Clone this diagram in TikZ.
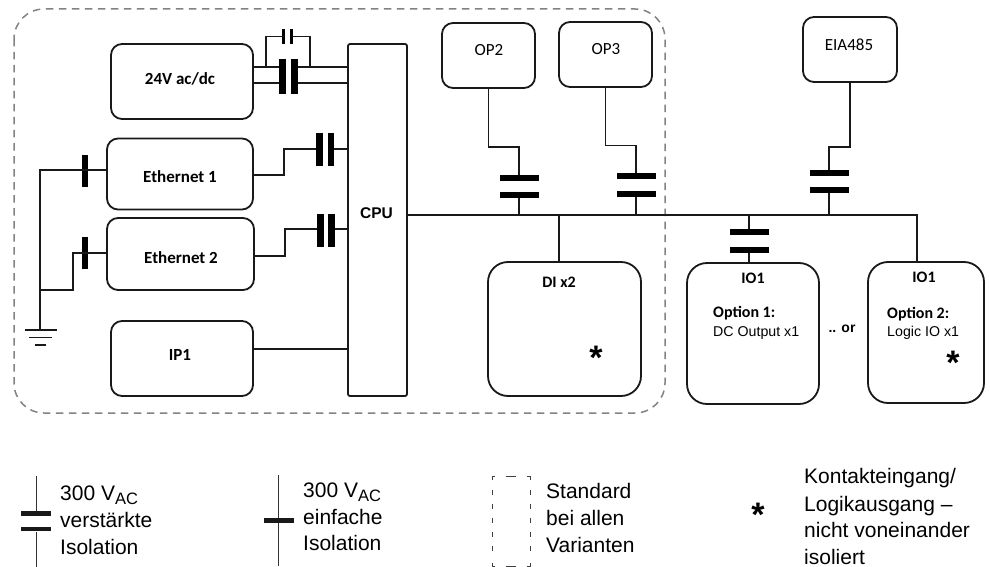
\documentclass[tikz,border=0pt]{standalone}
\usepackage{fontspec}
\setmainfont{Liberation Sans}
\newfontfamily\carl{Carlito}
\usetikzlibrary{calc}
\definecolor{dashgray}{RGB}{130,130,130}
\newcommand{\vac}{300 V\raisebox{-4pt}{\fontsize{16.5}{18}\selectfont AC}}
\tikzset{
  x=1pt,y=-1pt,
  wire/.style={line width=1.8pt,black!90},
  thin wire/.style={line width=1pt,black!80},
  rbox/.style={draw=black!90,line width=1.8pt,rounded corners=11pt,inner sep=0pt},
  bigbox/.style={rbox,rounded corners=20pt},
  vplate/.style={fill=black,inner sep=0pt,minimum width=6.5pt,minimum height=33pt},
  hplate/.style={fill=black,inner sep=0pt,minimum width=39pt,minimum height=6pt},
  lhplate/.style={fill=black!90,inner sep=0pt,minimum width=30pt,minimum height=4.8pt},
  lbl/.style={inner sep=0pt,font=\carl\bfseries\fontsize{17}{18}\selectfont},
  lblopt/.style={inner sep=0pt,font=\carl\bfseries\fontsize{16}{18}\selectfont},
  lblreg/.style={inner sep=0pt,font=\carl\fontsize{17}{18}\selectfont},
  arial/.style={inner sep=0pt,font=\fontsize{14.2}{18}\selectfont},
  arialb/.style={inner sep=0pt,font=\bfseries\fontsize{14}{18}\selectfont},
  legend/.style={inner sep=0pt,anchor=base west,font=\fontsize{21}{24}\selectfont},
  star/.style={inner sep=0pt,font=\bfseries\fontsize{34}{34}\selectfont},
  legdash/.style={black!75,line width=0.8pt},
}
\begin{document}
\begin{tikzpicture}
\useasboundingbox (0,0) rectangle (990,567);
% standard area
\draw[dashgray,line width=1.5pt,dash pattern=on 7.5pt off 5.5pt,rounded corners=30pt] (14,9) rectangle (665,413);
% boxes
\node[rbox,minimum width=142pt,minimum height=75pt] (psu) at (182,81.5) {};
\node[lbl] at (180,79) {24V ac/dc};
\node[rbox,minimum width=146pt,minimum height=71pt] (eth1) at (180,174) {};
\node[lbl] at (180,177) {Ethernet 1};
\node[rbox,minimum width=147pt,minimum height=72pt] (eth2) at (180.5,254) {};
\node[lbl] at (181,258) {Ethernet 2};
\node[rbox,minimum width=142pt,minimum height=75pt] (ip1) at (182,358.5) {};
\node[lbl] at (180,355) {IP1};
\node[draw=black!90,line width=1.8pt,rounded corners=2pt,minimum width=59pt,minimum height=352pt,inner sep=0pt] (cpu) at (377.5,220) {};
\node[inner sep=0pt,font=\bfseries\fontsize{15.5}{18}\selectfont] at (376.5,213) {CPU};
\node[rbox,minimum width=93pt,minimum height=65pt] (op2) at (488.5,55.5) {};
\node[lblreg] at (489,50) {OP2};
\node[rbox,minimum width=93pt,minimum height=65pt] (op3) at (605.5,54.5) {};
\node[lblreg] at (606,49) {OP3};
\node[rbox,minimum width=94pt,minimum height=65pt] (eia) at (850,49.5) {};
\node[lblreg] at (849,45) {EIA485};
\node[bigbox,minimum width=153pt,minimum height=134pt] (di) at (564.5,329) {};
\node[lblopt] at (559,282) {DI x2};
\node[bigbox,minimum width=132pt,minimum height=141pt] (io1a) at (753,333.5) {};
\node[lblopt] at (753,278) {IO1};
\node[lblopt,anchor=west] at (713,313) {Option 1:};
\node[arial,anchor=west] at (713,333) {DC Output x1};
\node[bigbox,minimum width=116pt,minimum height=141pt] (io1b) at (926,332.5) {};
\node[lblopt] at (924,277) {IO1};
\node[lblopt,anchor=west] at (887,314) {Option 2:};
\node[arial,anchor=west] at (887,333) {Logic IO x1};
\node[arialb] at (842,329) {.. or};
\node[star] at (596,358) {*};
\node[star] at (953,363) {*};
% junctions
\coordinate (gnd) at (40,330);
\coordinate (busend) at (917,215);
% 24V double capacitor
\node[vplate,minimum height=35pt] (pa) at (282.5,76.5) {};
\node[vplate,minimum height=35pt] (pb) at (294.5,76.5) {};
\draw[wire] (psu.east |- 0,67) -- (pa.west |- 0,67);
\draw[wire] (psu.east |- 0,83) -- (pa.west |- 0,83);
\draw[wire] (pb.east |- 0,67) -- (cpu.west |- 0,67);
\draw[wire] (pb.east |- 0,83) -- (cpu.west |- 0,83);
\node[fill=black,inner sep=0pt,minimum width=3.4pt,minimum height=15pt] (sa) at (283.5,36.5) {};
\node[fill=black,inner sep=0pt,minimum width=3.4pt,minimum height=15pt] (sb) at (291.5,36.5) {};
\draw[wire] (266,67) |- (sa.center);
\draw[wire] (310,67) |- (sb.center);
% Ethernet capacitors
\node[vplate] (e1a) at (319.5,149.5) {};
\node[vplate] (e1b) at (331,149.5) {};
\draw[wire] (eth1.east |- 0,175) -| (284,149) -- (e1a.west |- 0,149);
\draw[wire] (e1b.east |- 0,149) -- (cpu.west |- 0,149);
\node[vplate] (e2a) at (320.5,230) {};
\node[vplate] (e2b) at (331.5,230) {};
\draw[wire] (eth2.east |- 0,256) -| (285,229) -- (e2a.west |- 0,229);
\draw[wire] (e2b.east |- 0,229) -- (cpu.west |- 0,229);
% Earth side
\node[vplate,minimum height=32pt] (g1) at (85,171) {};
\node[vplate,minimum height=32pt] (g2) at (85,253) {};
\draw[wire] (eth1.west |- 0,170) -- (40,170) -- (gnd);
\draw[wire] (eth2.west |- 0,253) -- (73,253) |- (40,290);
\draw[wire,line width=1.6pt] (25,330) -- (57,330);
\draw[wire,line width=1.6pt] (29,337.5) -- (52,337.5);
\draw[wire,line width=1.6pt] (35,345) -- (46,345);
% IP1
\draw[wire] (ip1.east |- 0,349) -- (cpu.west |- 0,349);
% bus
\draw[wire] (cpu.east |- 0,215) -- (busend) -- (io1b.north -| busend);
\draw[wire] (559,215) -- (di.north -| 559,0);
% OP2
\node[hplate] (o2a) at (519,178) {};
\node[hplate] (o2b) at (519,195) {};
\draw[wire] (op2.south) |- (519,147) -- (o2a.north);
\draw[wire] (o2b.south) -- (o2b.south |- busend);
% OP3
\node[hplate] (o3a) at (636,176) {};
\node[hplate] (o3b) at (636,194) {};
\draw[wire] (op3.south) |- (636,145.5) -- (o3a.north);
\draw[wire] (o3b.south) -- (o3b.south |- busend);
% EIA485
\node[hplate] (eiaa) at (829,173) {};
\node[hplate] (eiab) at (829,190) {};
\draw[wire] (eia.south) |- (829,147) -- (eiaa.north);
\draw[wire] (eiab.south) -- (eiab.south |- busend);
% IO1 left
\node[hplate] (ioa) at (749,232) {};
\node[hplate] (iob) at (749,250) {};
\draw[wire] (ioa.north |- busend) -- (ioa.north);
\draw[wire] (iob.south) -- (iob.south |- io1a.north);
% legend
\coordinate (l1t) at (36,476); \coordinate (l1b) at (36,567);
\node[lhplate] (l1a) at (36,513.5) {};
\node[lhplate] (l1c) at (36,529) {};
\draw[thin wire] (l1t) -- (l1a.north);
\draw[thin wire] (l1c.south) -- (l1b);
\node[legend] at (60,500) {\vac};
\node[legend] at (60,527) {verstärkte};
\node[legend] at (60,554) {Isolation};
\coordinate (l2t) at (278.5,475); \coordinate (l2b) at (278.5,566);
\draw[thin wire] (l2t) -- (l2b);
\node[lhplate] (l2a) at (278.5,520.5) {};
\node[legend] at (303,497) {\vac};
\node[legend] at (303,524) {einfache};
\node[legend] at (303,550) {Isolation};
% legend dashed frame
\draw[legdash] (492,479.5) |- (495,476);
\draw[legdash] (505.5,476) -- (515.5,476);
\draw[legdash] (526.5,476) -| (530,479.5);
\draw[legdash] (492,562.5) |- (495,566);
\draw[legdash] (505.5,566) -- (515.5,566);
\draw[legdash] (526.5,566) -| (530,562.5);
\foreach \yy in {490,504,518,532,546} {
  \draw[legdash] (492,\yy) -- (492,\yy+5);
  \draw[legdash] (530,\yy) -- (530,\yy+5);
}
\node[legend] at (546,498) {Standard};
\node[legend] at (546,525) {bei allen};
\node[legend] at (546,552) {Varianten};
\node[star] at (758,515) {*};
\node[legend] at (804,483) {Kontakteingang/};
\node[legend] at (804,511) {Logikausgang –};
\node[legend] at (804,537) {nicht voneinander};
\node[legend] at (804,564) {isoliert};
\end{tikzpicture}
\end{document}
